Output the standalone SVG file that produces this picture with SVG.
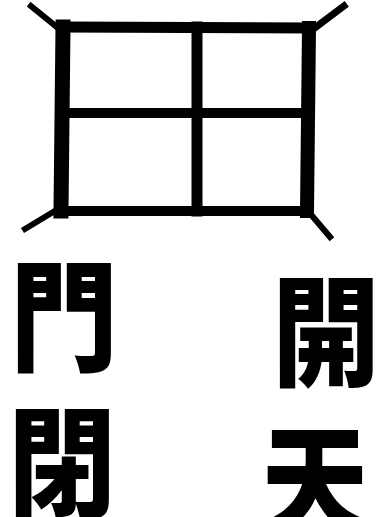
<svg xmlns="http://www.w3.org/2000/svg" width="388" height="517" viewBox="0 0 388 517">
<style>
.ln{stroke:#000;fill:none;stroke-linecap:square}
.ch{font-family:"Noto Sans CJK TC","Noto Sans CJK SC",sans-serif;font-weight:900;font-size:120px;fill:#000;text-anchor:middle}
</style>
<rect width="388" height="517" fill="#fff"/>
<g id="grid">
<line class="ln" x1="63" y1="27" x2="308" y2="28" stroke-width="11"/>
<line class="ln" x1="62" y1="113" x2="308" y2="113" stroke-width="10"/>
<line class="ln" x1="61" y1="211" x2="307" y2="211" stroke-width="10"/>
<line class="ln" x1="63" y1="27" x2="61" y2="211" stroke-width="15"/>
<line class="ln" x1="197" y1="27" x2="197" y2="211" stroke-width="11"/>
<line class="ln" x1="309" y1="28" x2="307" y2="211" stroke-width="14"/>
</g>
<g id="connectors">
<line class="ln" x1="31" y1="6" x2="58" y2="28" stroke-width="6"/>
<line class="ln" x1="344" y1="6" x2="312" y2="30" stroke-width="7"/>
<line class="ln" x1="25" y1="229" x2="58" y2="209" stroke-width="6"/>
<line class="ln" x1="330" y1="237" x2="308" y2="211" stroke-width="6"/>
</g>
<g id="n1"><text class="ch" transform="translate(64,362) scale(0.9,1)">門</text></g>
<g id="n2"><text class="ch" transform="translate(326,377) scale(0.9,1)">開</text></g>
<g id="n3"><text class="ch" transform="translate(62,508) scale(0.9,1)">閉</text></g>
<g id="n4"><text class="ch" transform="translate(315,526) scale(0.9,1)">天</text></g>
</svg>
